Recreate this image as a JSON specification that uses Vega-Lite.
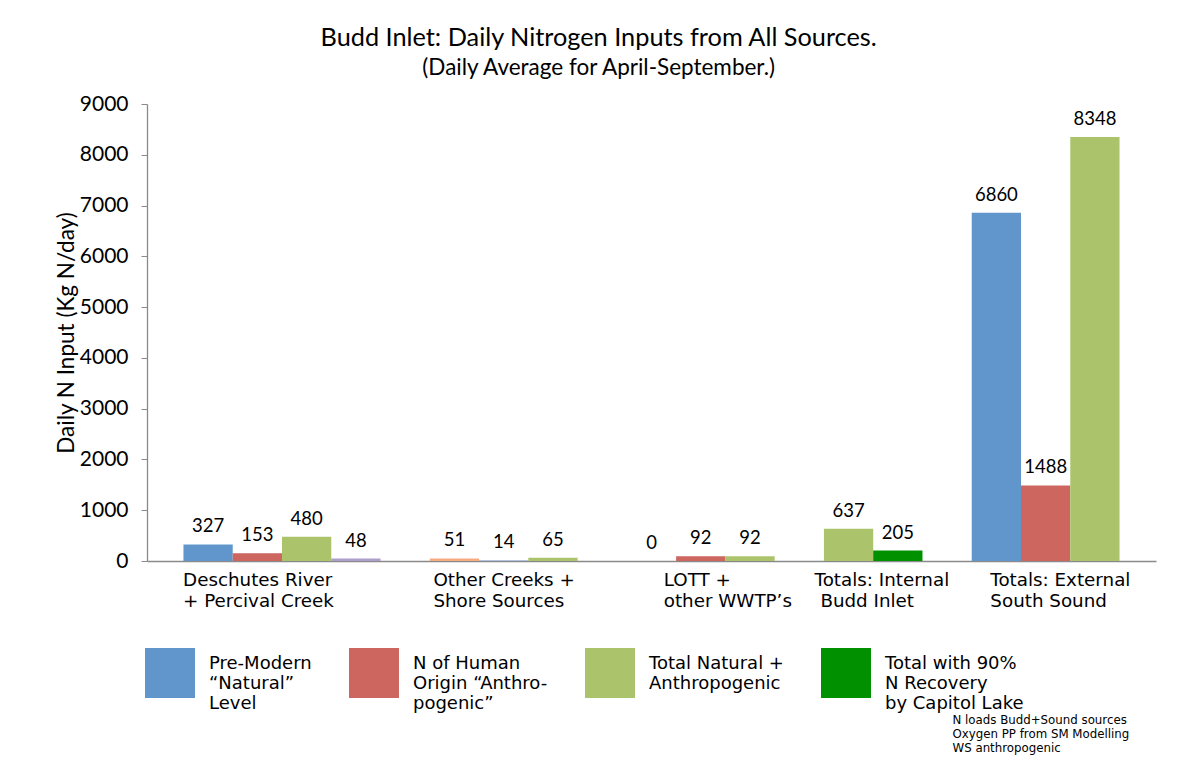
{
  "$schema": "https://vega.github.io/schema/vega-lite/v6.json",
  "width": 1009,
  "height": 457,
  "autosize": {"type": "none"},
  "padding": {"left": 147, "top": 104, "right": 24, "bottom": 205},
  "background": "white",
  "title": {
    "text": "Budd Inlet: Daily Nitrogen Inputs from All Sources.",
    "subtitle": "(Daily Average for April-September.)",
    "font": "Lato",
    "fontSize": 25.3,
    "fontWeight": "normal",
    "color": "black",
    "subtitleFont": "Lato",
    "subtitleFontSize": 22.5,
    "subtitleColor": "black",
    "subtitlePadding": 5,
    "anchor": "middle",
    "frame": "bounds",
    "dx": -7,
    "offset": 14
  },
  "data": {
    "values": [
      {"source": "Deschutes River + Percival Creek", "series": "Natural", "id": "D-nat", "value": 327},
      {"source": "Deschutes River + Percival Creek", "series": "Anthropogenic", "id": "D-ant", "value": 153},
      {"source": "Deschutes River + Percival Creek", "series": "Total", "id": "D-tot", "value": 480},
      {"source": "Deschutes River + Percival Creek", "series": "Total with 90% recovery", "id": "D-rec", "value": 48},
      {"source": "Other Creeks + Shore Sources", "series": "Natural", "id": "O-nat", "value": 51},
      {"source": "Other Creeks + Shore Sources", "series": "Anthropogenic", "id": "O-ant", "value": 14},
      {"source": "Other Creeks + Shore Sources", "series": "Total", "id": "O-tot", "value": 65},
      {"source": "LOTT + other WWTP's", "series": "Natural", "id": "L-nat", "value": 0},
      {"source": "LOTT + other WWTP's", "series": "Anthropogenic", "id": "L-ant", "value": 92},
      {"source": "LOTT + other WWTP's", "series": "Total", "id": "L-tot", "value": 92},
      {"source": "Totals: Internal Budd Inlet", "series": "Total", "id": "I-tot", "value": 637},
      {"source": "Totals: Internal Budd Inlet", "series": "Total with 90% recovery", "id": "I-rec", "value": 205},
      {"source": "Totals: External South Sound", "series": "Natural", "id": "E-nat", "value": 6860},
      {"source": "Totals: External South Sound", "series": "Anthropogenic", "id": "E-ant", "value": 1488},
      {"source": "Totals: External South Sound", "series": "Total", "id": "E-tot", "value": 8348}
    ]
  },
  "encoding": {
    "x": {
      "field": "id",
      "type": "nominal",
      "sort": null,
      "scale": {
        "type": "band",
        "domain": ["D-nat", "D-ant", "D-tot", "D-rec", "gap1", "O-nat", "O-ant", "O-tot", "gap2", "L-nat", "L-ant", "L-tot", "gap3", "I-tot", "I-rec", "gap4", "E-nat", "E-ant", "E-tot"],
        "paddingInner": 0,
        "paddingOuter": 0.74
      },
      "axis": {
        "title": ["N loads Budd+Sound sources", "Oxygen PP from SM Modelling", "WS anthropogenic"],
        "titleFont": "DejaVu Sans",
        "titleFontSize": 11.8,
        "titleFontWeight": "normal",
        "titleColor": "black",
        "titleAlign": "left",
        "titleBaseline": "top",
        "titleX": 805,
        "titleY": 153,
        "titleLineHeight": 14.3,
        "labelExpr": "datum.value == 'D-nat' ? ['Deschutes River', '+ Percival Creek'] : datum.value == 'O-nat' ? ['Other Creeks +', 'Shore Sources'] : datum.value == 'L-ant' ? ['LOTT +', 'other WWTP’s'] : datum.value == 'I-tot' ? ['Totals: Internal', '\u200b\u00a0Budd Inlet'] : datum.value == 'E-nat' ? ['Totals: External', 'South Sound'] : ''",
        "labelAngle": 0,
        "labelAlign": "left",
        "labelBaseline": "top",
        "labelFont": "DejaVu Sans",
        "labelFontSize": 18.3,
        "labelLineHeight": 21.5,
        "labelPadding": 10,
        "labelColor": "black",
        "labelLimit": 0,
        "labelOffset": {
          "condition": [
            {"test": "datum.value == 'D-nat'", "value": -25},
            {"test": "datum.value == 'O-nat'", "value": -21},
            {"test": "datum.value == 'L-ant'", "value": -37},
            {"test": "datum.value == 'I-tot'", "value": -34},
            {"test": "datum.value == 'E-nat'", "value": -6}
          ],
          "value": 0
        },
        "ticks": false,
        "bandPosition": 0,
        "domainColor": "#8a8a8a",
        "domainWidth": 1.3
      }
    },
    "y": {
      "field": "value",
      "type": "quantitative",
      "scale": {"domain": [0, 9000], "nice": false},
      "axis": {
        "values": [0, 1000, 2000, 3000, 4000, 5000, 6000, 7000, 8000, 9000],
        "format": "d",
        "grid": false,
        "domainColor": "#8a8a8a",
        "domainWidth": 1.3,
        "tickColor": "#8a8a8a",
        "tickSize": 6,
        "labelPadding": 13,
        "labelFont": "Lato",
        "labelFontSize": 21,
        "labelColor": "black",
        "title": "Daily N Input (Kg N/day)",
        "titleFont": "Lato",
        "titleFontSize": 22.5,
        "titleFontWeight": "normal",
        "titleColor": "black",
        "titlePadding": 1
      }
    }
  },
  "layer": [
    {
      "mark": {"type": "bar"},
      "encoding": {
        "color": {
          "field": "series",
          "type": "nominal",
          "scale": {
            "domain": ["Natural", "Anthropogenic", "Total", "Total with 90% recovery"],
            "range": ["#6096CB", "#CD665F", "#ABC46C", "#009000"]
          },
          "condition": [
            {"test": "datum.source == 'Deschutes River + Percival Creek' && datum.series == 'Total with 90% recovery'", "value": "#AC9FCB"},
            {"test": "datum.source == 'Other Creeks + Shore Sources' && datum.series == 'Natural'", "value": "#F7AC80"},
            {"test": "datum.source == 'Other Creeks + Shore Sources' && datum.series == 'Anthropogenic'", "value": "#A3B8DC"}
          ],
          "legend": {
            "orient": "none",
            "legendX": -2,
            "legendY": 544,
            "direction": "horizontal",
            "columns": 4,
            "title": null,
            "symbolType": "square",
            "symbolSize": 2500,
            "symbolStrokeWidth": 0,
            "symbolOpacity": 1,
            "labelFont": "DejaVu Sans",
            "labelFontSize": 18,
            "labelLineHeight": 21.5,
            "labelBaseline": "bottom",
            "labelColor": "black",
            "labelOffset": 14,
            "labelLimit": 0,
            "columnPadding": 37,
            "labelExpr": "datum.label == 'Natural' ? ['Pre-Modern', '“Natural”', 'Level'] : datum.label == 'Anthropogenic' ? ['N of Human', 'Origin “Anthro-', 'pogenic”'] : datum.label == 'Total' ? ['Total Natural +', 'Anthropogenic', '\u200b'] : ['Total with 90%', 'N Recovery', 'by Capitol Lake']"
          }
        }
      }
    },
    {
      "mark": {"type": "text", "dy": -12, "baseline": "alphabetic", "font": "Lato", "fontSize": 18.5, "color": "black"},
      "encoding": {
        "text": {"field": "value", "type": "quantitative", "format": "d"}
      }
    }
  ],
  "config": {
    "view": {"stroke": null}
  }
}
